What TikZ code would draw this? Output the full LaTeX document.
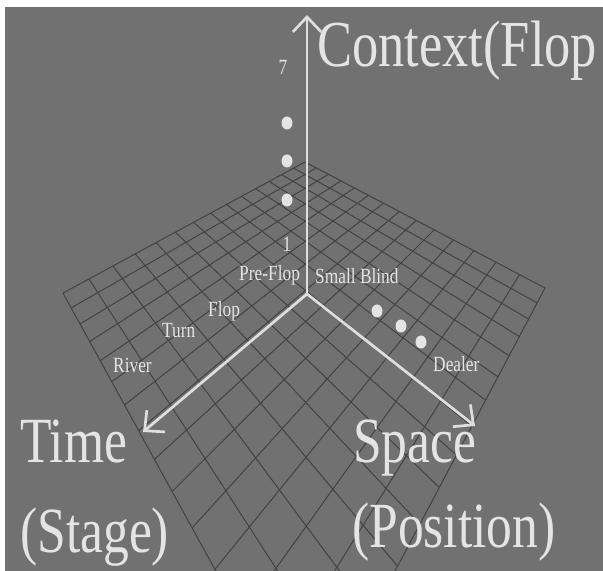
\documentclass[tikz,border=0pt]{standalone}
\usepackage{fontspec}
\setmainfont{Liberation Serif}
\newfontfamily\narrowserif[FakeStretch=0.8]{Liberation Serif}
\usetikzlibrary{arrows.meta}
\definecolor{boardgray}{RGB}{113,113,113}
\definecolor{gridgray}{RGB}{66,66,66}
\definecolor{axiswhite}{RGB}{222,222,222}
\definecolor{labelwhite}{RGB}{228,228,228}
% floor grid: unit square -> picture (far, left, near, right corner)
\def\gridA{-264.68}
\def\gridB{48.02}
\def\gridC{305}
\def\gridD{25.52}
\def\gridE{24.55}
\def\gridF{162}
\def\gridG{-0.36}
\def\gridH{-0.35226}

\begin{document}
\begin{tikzpicture}[
    x=0.03cm, y=-0.03cm,
    gridline/.style={draw=gridgray, line width=0.85pt},
    axis/.style={draw=axiswhite, line width=2.3pt,
      -{Straight Barb[length=4.5mm, width=8.5mm]}},
    chip/.style={fill=labelwhite},
    small/.style={text=labelwhite, inner sep=0pt, anchor=base west,
      font=\narrowserif\fontsize{18.5}{20}\selectfont},
    big/.style={text=labelwhite, inner sep=0pt, anchor=base west,
      font=\narrowserif\fontsize{55}{60}\selectfont}
  ]
    \useasboundingbox (0,0) rectangle (603,571);
    \clip (0,0) rectangle (603,571);
    \fill[white] (0,0) rectangle (603,571);
    \fill[boardgray] (5,7) rectangle (603,571);

    % perspective floor
    \foreach \k in {0,...,14}{
      \pgfmathsetmacro\gpos{\k/14}
      \coordinate (ua) at ({(\gridA*\gpos+\gridC)/(\gridG*\gpos+1)}, {(\gridD*\gpos+\gridF)/(\gridG*\gpos+1)});
      \coordinate (ub) at ({(\gridA*\gpos+\gridB+\gridC)/(\gridG*\gpos+\gridH+1)}, {(\gridD*\gpos+\gridE+\gridF)/(\gridG*\gpos+\gridH+1)});
      \draw[gridline] (ua) -- (ub);
      \coordinate (va) at ({(\gridB*\gpos+\gridC)/(\gridH*\gpos+1)}, {(\gridE*\gpos+\gridF)/(\gridH*\gpos+1)});
      \coordinate (vb) at ({(\gridA+\gridB*\gpos+\gridC)/(\gridG+\gridH*\gpos+1)}, {(\gridD+\gridE*\gpos+\gridF)/(\gridG+\gridH*\gpos+1)});
      \draw[gridline] (va) -- (vb);
    }

    % axes
    \coordinate (origin) at (307,294);
    \coordinate (ctxtip) at (307,15);
    \coordinate (timetip) at (143,432);
    \coordinate (spacetip) at (475,426);
    \draw[axis] (origin) -- (ctxtip);
    \draw[axis] (origin) -- (timetip);
    \draw[axis] (origin) -- (spacetip);

    % chips
    \foreach \cx/\cy in {287/123, 287/161, 287/200, 377/311, 401/326, 421/342}
      \fill[chip] (\cx,\cy) ellipse [x radius=5.5, y radius=6.5];

    % small labels
    \node[small, anchor=base] (seven) at (283,75) {7};
    \node[small, anchor=base] (one) at (287,252) {1};
    \node[small] (preflop) at (239,281) {Pre-Flop};
    \node[small] (sblind) at (315,284) {Small Blind};
    \node[small] (flop) at (208,317) {Flop};
    \node[small] (turn) at (162,338) {Turn};
    \node[small] (river) at (113,373) {River};
    \node[small] (dealer) at (433,372) {Dealer};

    % axis titles
    \node[big, font=\narrowserif\fontsize{56}{60}\selectfont] (context) at (317,67) {Context(Flop};
    \node[big] (time) at (20,463) {Time};
    \node[big] (stage) at (20,553) {(Stage)};
    \node[big] (space) at (353,463) {Space};
    \node[big] (position) at (352,548) {(Position)};
  \end{tikzpicture}
\end{document}
